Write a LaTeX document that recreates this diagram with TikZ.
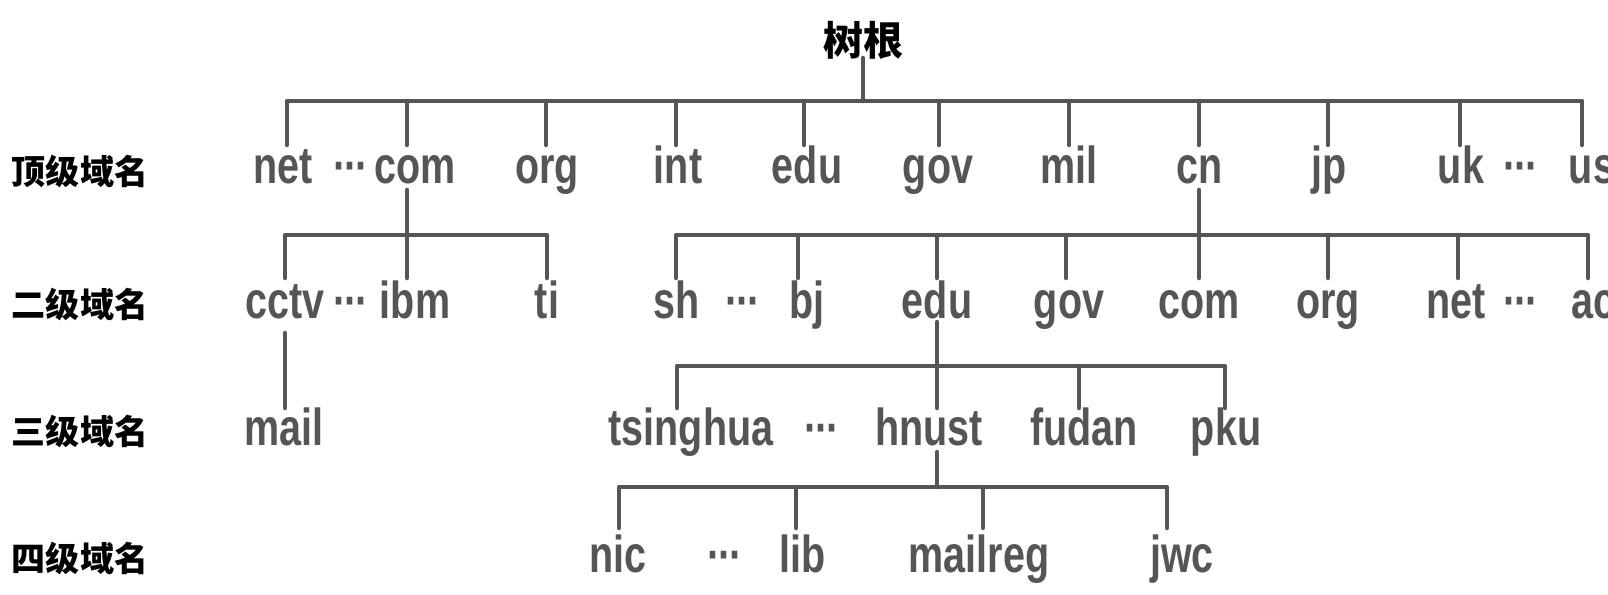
\documentclass[tikz,border=0pt]{standalone}
\usepackage{fontspec}
\usepackage{xcolor}
\newfontfamily\lblfont{Liberation Sans}[FakeStretch=0.76]
\newfontfamily\cjkfont{Noto Sans CJK SC}
\definecolor{treegray}{HTML}{555555}
\newcommand{\tdots}{·\kern-2.5pt·\kern-2.5pt·}
\tikzset{
    dom/.style={anchor=base, inner sep=0pt, text=treegray,
        font={\lblfont\bfseries\fontsize{52}{60}\selectfont}},
    lvl/.style={inner sep=0pt, text=black,
        font={\cjkfont\bfseries\fontsize{34}{40}\selectfont}},
    rootlbl/.style={lvl, font={\cjkfont\bfseries\fontsize{40}{46}\selectfont}},
    branch/.style={draw=treegray, line width=4.5pt, line cap=round, line join=round}
}

\begin{document}
\begin{tikzpicture}[x=1pt, y=-1pt]
\useasboundingbox (0,0) rectangle (1608,594);
\clip (0,0) rectangle (1608,594);

    % Root and level names
    \node[rootlbl] (root) at (863,40) {树根};
    \node[lvl] (lv1) at (80,171) {顶级域名};
    \node[lvl] (lv2) at (80,304) {二级域名};
    \node[lvl] (lv3) at (80,431) {三级域名};
    \node[lvl] (lv4) at (80,558) {四级域名};

    % Top-level domains
    \node[dom] (net1) at (283,183) {net};
    \node[dom] (dots1a) at (351,183) {\tdots};
    \node[dom] (com1) at (415,183) {com};
    \node[dom] (org1) at (547,183) {org};
    \node[dom] (int1) at (678,183) {int};
    \node[dom] (edu1) at (807,183) {edu};
    \node[dom] (gov1) at (938,183) {gov};
    \node[dom] (mil1) at (1069,183) {mil};
    \node[dom] (cn1) at (1200,183) {cn};
    \node[dom] (jp1) at (1329,183) {jp};
    \node[dom] (uk1) at (1461,183) {uk};
    \node[dom] (dots1b) at (1521,183) {\tdots};
    \node[dom] (us1) at (1592,183) {us};

    % Second-level domains
    \node[dom] (cctv2) at (285,318) {cctv};
    \node[dom] (dots2a) at (351,318) {\tdots};
    \node[dom] (ibm2) at (415,318) {ibm};
    \node[dom] (ti2) at (547,318) {ti};
    \node[dom] (sh2) at (677,318) {sh};
    \node[dom] (dots2b) at (743,318) {\tdots};
    \node[dom] (bj2) at (807,318) {bj};
    \node[dom] (edu2) at (937,318) {edu};
    \node[dom] (gov2) at (1069,318) {gov};
    \node[dom] (com2) at (1199,318) {com};
    \node[dom] (org2) at (1328,318) {org};
    \node[dom] (net2) at (1456,318) {net};
    \node[dom] (dots2c) at (1521,318) {\tdots};
    \node[dom] (ac2) at (1593,318) {ac};

    % Third-level domains
    \node[dom] (mail3) at (284,445) {mail};
    \node[dom] (tsinghua3) at (691,445) {tsinghua};
    \node[dom] (dots3) at (822,445) {\tdots};
    \node[dom] (hnust3) at (929,445) {hnust};
    \node[dom] (fudan3) at (1084,445) {fudan};
    \node[dom] (pku3) at (1226,445) {pku};

    % Fourth-level domains
    \node[dom] (nic4) at (618,572) {nic};
    \node[dom] (dots4) at (725,572) {\tdots};
    \node[dom] (lib4) at (803,572) {lib};
    \node[dom] (mailreg4) at (979,572) {mailreg};
    \node[dom] (jwc4) at (1182,572) {jwc};

    % Tick feet above the labels
    \foreach \n/\x in {net1/287, com1/407, org1/546, int1/676, edu1/804, gov1/939,
        mil1/1069, cn1/1199, jp1/1328, uk1/1460, us1/1582}
        \coordinate (\n-t) at (\x,145);
    \foreach \n/\x in {cctv2/285, ibm2/407, ti2/547, sh2/676, bj2/798, edu2/937,
        gov2/1066, com2/1199, org2/1328, net2/1458, ac2/1588}
        \coordinate (\n-t) at (\x,278);
    \foreach \n/\x in {mail3/285, tsinghua3/677, hnust3/937, fudan3/1079, pku3/1225}
        \coordinate (\n-t) at (\x,408);
    \foreach \n/\x in {nic4/619, lib4/796, mailreg4/983, jwc4/1167}
        \coordinate (\n-t) at (\x,528);

    % Drops below the parents
    \coordinate (root-d) at (863,58);
    \coordinate (com1-d) at (407,190);
    \coordinate (cn1-d) at (1199,190);
    \coordinate (cctv2-d) at (285,333);
    \coordinate (edu2-d) at (937,322);
    \coordinate (hnust3-d) at (937,452);

    % Root -> top level
    \draw[branch] (root-d) -- ++(0,43);
    \draw[branch] (net1-t) -- ++(0,-44) -| (us1-t);
    \foreach \n in {com1,org1,int1,edu1,gov1,mil1,cn1,jp1,uk1}
        \draw[branch] (\n-t) -- ++(0,-44);

    % com -> second level
    \draw[branch] (com1-d) -- (ibm2-t);
    \draw[branch] (cctv2-t) -- ++(0,-43) -| (ti2-t);

    % cn -> second level
    \draw[branch] (cn1-d) -- (com2-t);
    \draw[branch] (sh2-t) -- ++(0,-43) -| (ac2-t);
    \foreach \n in {bj2,edu2,gov2,org2,net2}
        \draw[branch] (\n-t) -- ++(0,-43);

    % cctv -> mail
    \draw[branch] (cctv2-d) -- (mail3-t);

    % edu -> third level
    \draw[branch] (edu2-d) -- (hnust3-t);
    \draw[branch] (tsinghua3-t) -- ++(0,-42) -| (pku3-t);
    \draw[branch] (fudan3-t) -- ++(0,-42);

    % hnust -> fourth level
    \draw[branch] (hnust3-d) -- ++(0,35);
    \draw[branch] (nic4-t) -- ++(0,-41) -| (jwc4-t);
    \foreach \n in {lib4,mailreg4}
        \draw[branch] (\n-t) -- ++(0,-41);
\end{tikzpicture}
\end{document}
